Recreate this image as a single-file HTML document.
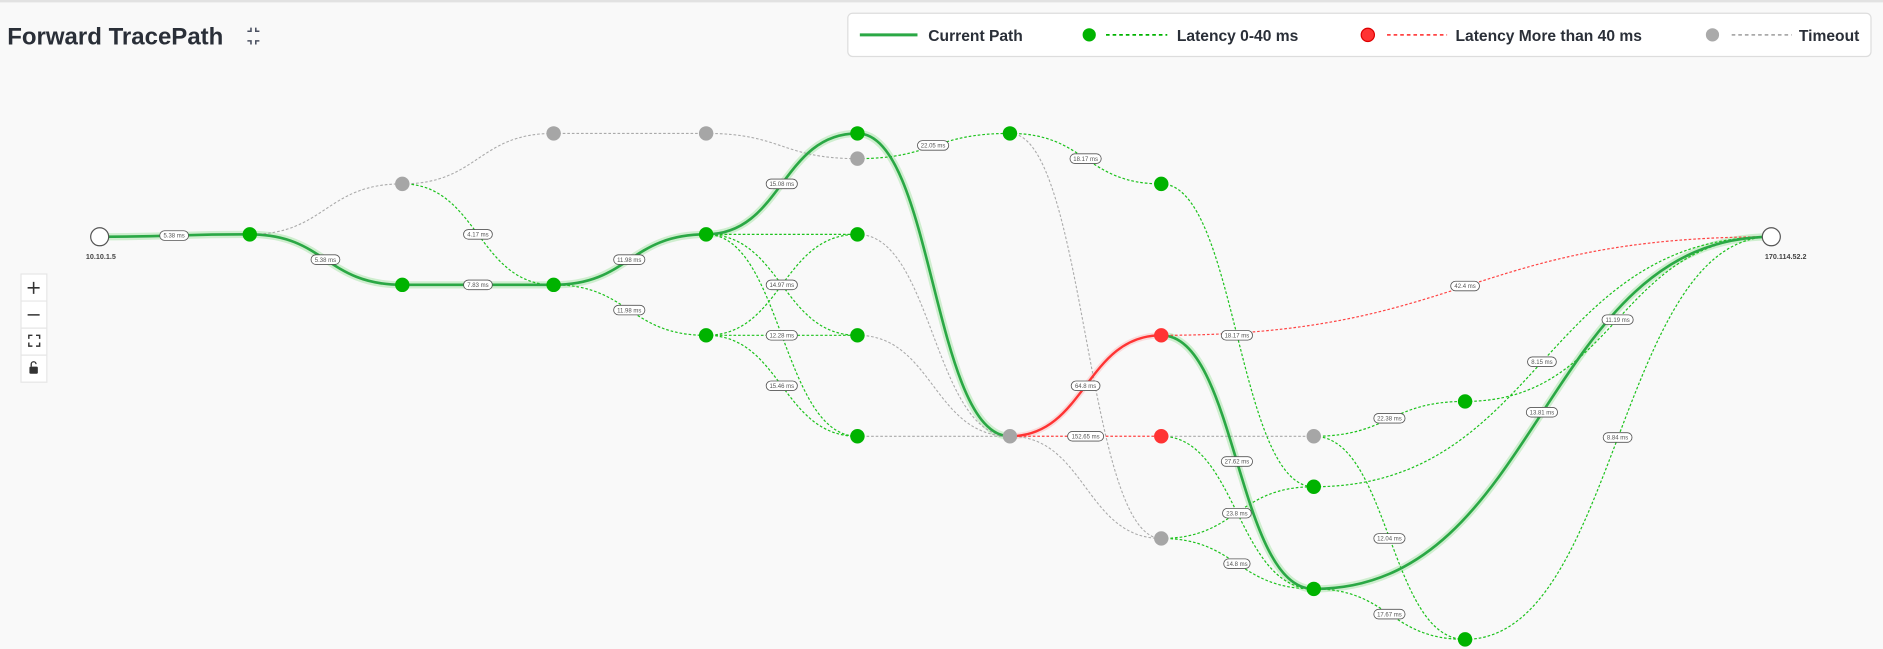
<!DOCTYPE html>
<html><head><meta charset="utf-8"><style>
html,body{margin:0;padding:0;background:#f9f9f9;width:1883px;height:649px;overflow:hidden}
svg{display:block}
text{font-family:"Liberation Sans",sans-serif}
.cur{fill:none;stroke:#2aa845;stroke-width:2.2}
.glow{fill:none;stroke:#9be09b;stroke-width:6;opacity:.45}
.g{fill:none;stroke:#1cc21c;stroke-width:1;stroke-dasharray:2.2 1.6}
.gr{fill:none;stroke:#aaa;stroke-width:.9;stroke-dasharray:2.2 1.6}
.r{fill:none;stroke:#f44;stroke-width:1;stroke-dasharray:2.2 1.6}
.lb rect{fill:#fff;stroke:#555;stroke-width:.7}
.lb text{font-size:5px;fill:#555;text-anchor:middle}
</style></head><body>
<svg width="1883" height="649" viewBox="0 0 1568 540" preserveAspectRatio="none">
<rect x="0" y="0" width="1568" height="2" fill="#e2e2e2"/>
<text x="6" y="37" font-size="20" font-weight="bold" fill="#2a2f38">Forward TracePath</text>
<g stroke="#4a5060" stroke-width="1.3" fill="none"><path d="M206,26 h3 v-3 M213,23 v3 h3 M206,34 h3 v3 M213,37 v-3 h3"/></g>
<!-- legend -->
<rect x="706" y="11" width="852" height="36" rx="4" fill="#fff" stroke="#ddd"/>
<line x1="716" y1="29" x2="764" y2="29" stroke="#2aa845" stroke-width="2.5"/>
<text x="773" y="34" font-size="13" font-weight="bold" fill="#2a2f38">Current Path</text>
<circle cx="907" cy="29" r="5.5" fill="#00b300"/>
<line x1="921" y1="29" x2="972" y2="29" stroke="#00b300" stroke-width="1.5" stroke-dasharray="3 2.5"/>
<text x="980" y="34" font-size="13" font-weight="bold" fill="#2a2f38">Latency 0-40 ms</text>
<circle cx="1139" cy="29" r="5.5" fill="#f33" stroke="#d00" stroke-width="1"/>
<line x1="1155" y1="29" x2="1205" y2="29" stroke="#f44" stroke-width="1.5" stroke-dasharray="3 2.5"/>
<text x="1212" y="34" font-size="13" font-weight="bold" fill="#2a2f38">Latency More than 40 ms</text>
<circle cx="1426" cy="29" r="5.5" fill="#aaa"/>
<line x1="1442" y1="29" x2="1492" y2="29" stroke="#aaa" stroke-width="1.5" stroke-dasharray="3 2.5"/>
<text x="1498" y="34" font-size="13" font-weight="bold" fill="#2a2f38">Timeout</text>
<!-- controls -->
<g>
<rect x="17.5" y="228" width="21.5" height="90" fill="#fff" stroke="#e6e6e6"/>
<line x1="17.5" y1="250.5" x2="39" y2="250.5" stroke="#e6e6e6"/>
<line x1="17.5" y1="273" x2="39" y2="273" stroke="#e6e6e6"/>
<line x1="17.5" y1="295.5" x2="39" y2="295.5" stroke="#e6e6e6"/>
<path d="M23,239.5 h10 M28,234.5 v10 M23,262 h10" stroke="#333" stroke-width="1.3"/>
<path d="M24,282 v-3 h3 M30,279 h3 v3 M24,285 v3 h3 M30,288 h3 v-3" stroke="#333" stroke-width="1.2" fill="none"/>
<rect x="24.5" y="305" width="7" height="6" rx="1" fill="#333"/>
<path d="M26,305 v-2 a2,2 0 0 1 4,0" stroke="#333" stroke-width="1.1" fill="none"/>
</g>
<!-- glow -->
<path class="glow" d="M83,197 C145,197 145,195 208,195 C271,195 271,237 335,237 L461,237 C524,237 524,195 588,195 C651,195 651,111 714,111 C777,111 777,363 841,363"/>
<path class="glow" d="M967,279 C1030,279 1030,490 1094,490 C1284,490 1284,197 1475,197"/>
<path d="M841,363 C904,363 904,279 967,279" fill="none" stroke="#f9b0b0" stroke-width="5" opacity=".4"/>
<!-- gray -->
<path class="gr" d="M208,195 C271,195 271,153 335,153"/>
<path class="gr" d="M335,153 C398,153 398,111 461,111"/>
<path class="gr" d="M461,111 L588,111"/>
<path class="gr" d="M588,111 C651,111 651,132 714,132"/>
<path class="gr" d="M714,195 C777,195 777,363 841,363"/>
<path class="gr" d="M714,279 C777,279 777,363 841,363"/>
<path class="gr" d="M714,363 L841,363"/>
<path class="gr" d="M841,111 C904,111 904,448 967,448"/>
<path class="gr" d="M841,363 C904,363 904,448 967,448"/>
<path class="gr" d="M967,363 L1094,363"/>
<!-- green dashed -->
<path class="g" d="M335,153 C398,153 398,237 461,237"/>
<path class="g" d="M461,237 C524,237 524,279 588,279"/>
<path class="g" d="M588,195 C651,195 651,195 714,195"/>
<path class="g" d="M588,195 C651,195 651,279 714,279"/>
<path class="g" d="M588,195 C651,195 651,363 714,363"/>
<path class="g" d="M588,279 C651,279 651,195 714,195"/>
<path class="g" d="M588,279 L714,279"/>
<path class="g" d="M588,279 C651,279 651,363 714,363"/>
<path class="g" d="M714,132 C777,132 777,111 841,111"/>
<path class="g" d="M841,111 C904,111 904,153 967,153"/>
<path class="g" d="M967,153 C1030,153 1030,405 1094,405"/>
<path class="g" d="M967,363 C1030,363 1030,490 1094,490"/>
<path class="g" d="M967,448 C1030,448 1030,405 1094,405"/>
<path class="g" d="M967,448 C1030,448 1030,490 1094,490"/>
<path class="g" d="M1094,363 C1157,363 1157,334 1220,334"/>
<path class="g" d="M1094,363 C1157,363 1157,532 1220,532"/>
<path class="g" d="M1094,490 C1157,490 1157,532 1220,532"/>
<path class="g" d="M1094,405 C1284,405 1284,197 1475,197"/>
<path class="g" d="M1220,334 C1347,334 1347,197 1475,197"/>
<path class="g" d="M1220,532 C1347,532 1347,197 1475,197"/>
<!-- red dashed -->
<path class="r" d="M841,363 L967,363"/>
<path class="r" d="M967,279 C1221,279 1221,197 1475,197"/>
<!-- current -->
<path class="cur" d="M83,197 C145,197 145,195 208,195 C271,195 271,237 335,237 L461,237 C524,237 524,195 588,195 C651,195 651,111 714,111 C777,111 777,363 841,363"/>
<path d="M841,363 C904,363 904,279 967,279" fill="none" stroke="#f33" stroke-width="2"/>
<path class="cur" d="M967,279 C1030,279 1030,490 1094,490 C1284,490 1284,197 1475,197"/>
<!-- labels -->
<g class="lb">
<g transform="translate(145,196)"><rect x="-12" y="-4" width="24" height="8" rx="4"/><text y="1.8">5.38 ms</text></g>
<g transform="translate(271,216)"><rect x="-12" y="-4" width="24" height="8" rx="4"/><text y="1.8">5.38 ms</text></g>
<g transform="translate(398,237)"><rect x="-12" y="-4" width="24" height="8" rx="4"/><text y="1.8">7.83 ms</text></g>
<g transform="translate(398,195)"><rect x="-12" y="-4" width="24" height="8" rx="4"/><text y="1.8">4.17 ms</text></g>
<g transform="translate(524,216)"><rect x="-13" y="-4" width="26" height="8" rx="4"/><text y="1.8">11.98 ms</text></g>
<g transform="translate(524,258)"><rect x="-13" y="-4" width="26" height="8" rx="4"/><text y="1.8">11.98 ms</text></g>
<g transform="translate(651,153)"><rect x="-13" y="-4" width="26" height="8" rx="4"/><text y="1.8">15.08 ms</text></g>
<g transform="translate(651,237)"><rect x="-13" y="-4" width="26" height="8" rx="4"/><text y="1.8">14.97 ms</text></g>
<g transform="translate(651,279)"><rect x="-13" y="-4" width="26" height="8" rx="4"/><text y="1.8">12.28 ms</text></g>
<g transform="translate(651,321)"><rect x="-13" y="-4" width="26" height="8" rx="4"/><text y="1.8">15.46 ms</text></g>
<g transform="translate(777,121)"><rect x="-13" y="-4" width="26" height="8" rx="4"/><text y="1.8">22.05 ms</text></g>
<g transform="translate(904,132)"><rect x="-13" y="-4" width="26" height="8" rx="4"/><text y="1.8">18.17 ms</text></g>
<g transform="translate(904,321)"><rect x="-12" y="-4" width="24" height="8" rx="4"/><text y="1.8">64.8 ms</text></g>
<g transform="translate(904,363)"><rect x="-15" y="-4" width="30" height="8" rx="4"/><text y="1.8">152.65 ms</text></g>
<g transform="translate(1030,279)"><rect x="-13" y="-4" width="26" height="8" rx="4"/><text y="1.8">18.17 ms</text></g>
<g transform="translate(1030,384)"><rect x="-13" y="-4" width="26" height="8" rx="4"/><text y="1.8">27.62 ms</text></g>
<g transform="translate(1030,427)"><rect x="-12" y="-4" width="24" height="8" rx="4"/><text y="1.8">23.8 ms</text></g>
<g transform="translate(1030,469)"><rect x="-11" y="-4" width="22" height="8" rx="4"/><text y="1.8">14.8 ms</text></g>
<g transform="translate(1157,348)"><rect x="-13" y="-4" width="26" height="8" rx="4"/><text y="1.8">22.38 ms</text></g>
<g transform="translate(1157,448)"><rect x="-13" y="-4" width="26" height="8" rx="4"/><text y="1.8">12.04 ms</text></g>
<g transform="translate(1157,511)"><rect x="-13" y="-4" width="26" height="8" rx="4"/><text y="1.8">17.67 ms</text></g>
<g transform="translate(1220,238)"><rect x="-12" y="-4" width="24" height="8" rx="4"/><text y="1.8">42.4 ms</text></g>
<g transform="translate(1284,301)"><rect x="-12" y="-4" width="24" height="8" rx="4"/><text y="1.8">8.15 ms</text></g>
<g transform="translate(1347,266)"><rect x="-13" y="-4" width="26" height="8" rx="4"/><text y="1.8">11.19 ms</text></g>
<g transform="translate(1284,343)"><rect x="-13" y="-4" width="26" height="8" rx="4"/><text y="1.8">13.81 ms</text></g>
<g transform="translate(1347,364)"><rect x="-12" y="-4" width="24" height="8" rx="4"/><text y="1.8">8.84 ms</text></g>
</g>
<!-- nodes -->
<g fill="#00b300">
<circle cx="208" cy="195" r="6"/><circle cx="335" cy="237" r="6"/><circle cx="461" cy="237" r="6"/>
<circle cx="588" cy="195" r="6"/><circle cx="588" cy="279" r="6"/><circle cx="714" cy="111" r="6"/>
<circle cx="714" cy="195" r="6"/><circle cx="714" cy="279" r="6"/><circle cx="714" cy="363" r="6"/>
<circle cx="841" cy="111" r="6"/><circle cx="967" cy="153" r="6"/><circle cx="1094" cy="405" r="6"/>
<circle cx="1094" cy="490" r="6"/><circle cx="1220" cy="334" r="6"/><circle cx="1220" cy="532" r="6"/>
</g>
<g fill="#a6a6a6">
<circle cx="335" cy="153" r="6"/><circle cx="461" cy="111" r="6"/><circle cx="588" cy="111" r="6"/>
<circle cx="714" cy="132" r="6"/><circle cx="841" cy="363" r="6"/><circle cx="967" cy="448" r="6"/>
<circle cx="1094" cy="363" r="6"/>
</g>
<g fill="#f33"><circle cx="967" cy="279" r="6"/><circle cx="967" cy="363" r="6"/></g>
<circle cx="83" cy="197" r="7.5" fill="#fff" stroke="#555" stroke-width="1"/>
<circle cx="1475" cy="197" r="7.5" fill="#fff" stroke="#555" stroke-width="1"/>
<text x="84" y="215.5" font-size="6" font-weight="bold" fill="#444" text-anchor="middle">10.10.1.5</text>
<text x="1487" y="215.5" font-size="6" font-weight="bold" fill="#444" text-anchor="middle">170.114.52.2</text>
</svg>
</body></html>
